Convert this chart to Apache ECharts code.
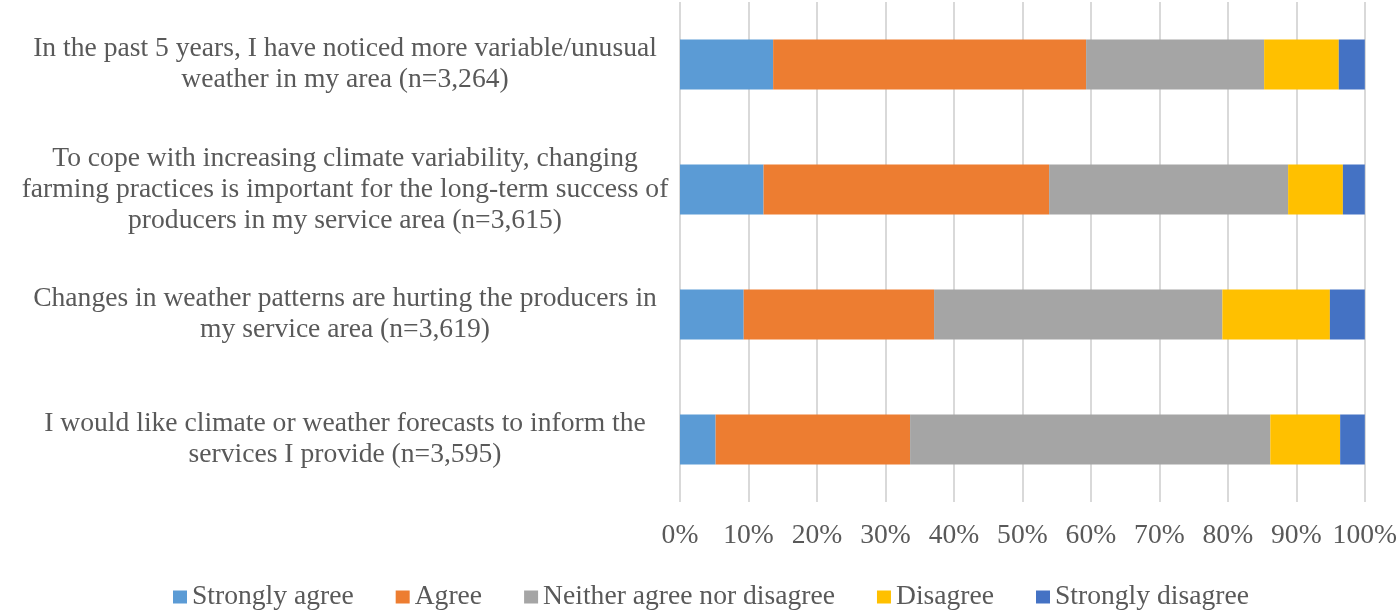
<!DOCTYPE html>
<html>
<head>
<meta charset="utf-8">
<script src="https://cdn.jsdelivr.net/npm/echarts@6/dist/echarts.min.js"></script>
<style>html,body{margin:0;padding:0;background:#fff}#c{width:1400px;height:611px}</style>
</head>
<body>
<div id="c"></div>
<script>
// Categories listed bottom-to-top (ECharts category axis on y starts at bottom)
const categories = [
  "I would like climate or weather forecasts to inform the\nservices I provide (n=3,595)",
  "Changes in weather patterns are hurting the producers in\nmy service area (n=3,619)",
  "To cope with increasing climate variability, changing\nfarming practices is important for the long-term success of\nproducers in my service area (n=3,615)",
  "In the past 5 years, I have noticed more variable/unusual\nweather in my area (n=3,264)"
];
const seriesNames = ["Strongly agree", "Agree", "Neither agree nor disagree", "Disagree", "Strongly disagree"];
const stronglyAgree = [5.2, 9.3, 12.2, 13.6];
const agree = [28.4, 27.8, 41.7, 45.7];
const neither = [52.6, 42.1, 34.9, 26.0];
const disagree = [10.2, 15.7, 8.0, 10.9];
const stronglyDisagree = [3.6, 5.1, 3.2, 3.8];
const xTicks = [0, 10, 20, 30, 40, 50, 60, 70, 80, 90, 100];

const colors = ["#5B9BD5", "#ED7D31", "#A5A5A5", "#FFC000", "#4472C4"];
const values = [stronglyAgree, agree, neither, disagree, stronglyDisagree];
const font = "'Liberation Serif', 'Times New Roman', serif";
const fs = 27.6;

const chart = echarts.init(document.getElementById('c'));
chart.setOption({
  animation: false,
  color: colors,
  textStyle: { fontFamily: font },
  grid: { left: 680, right: 31, top: 2, bottom: 109, containLabel: false },
  legend: {
    data: seriesNames,
    top: 578,
    left: 168,
    icon: 'rect',
    itemWidth: 14,
    itemHeight: 13,
    itemGap: 42,
    textStyle: { fontFamily: font, fontSize: fs, color: '#595959', padding: [0, 0, 0, 0] }
  },
  xAxis: {
    type: 'value',
    min: xTicks[0],
    max: xTicks[xTicks.length - 1],
    interval: 10,
    axisLine: { show: false },
    axisTick: { show: false },
    axisLabel: { formatter: '{value}%', fontFamily: font, fontSize: fs, color: '#595959', margin: 20 },
    splitLine: { show: true, lineStyle: { color: '#D9D9D9', width: 2 } }
  },
  yAxis: {
    type: 'category',
    data: categories,
    axisLine: { show: false },
    axisTick: { show: false },
    axisLabel: {
      fontFamily: font, fontSize: fs, color: '#595959',
      align: 'center', margin: 335, lineHeight: 31
    }
  },
  series: seriesNames.map((n, i) => ({
    name: n,
    type: 'bar',
    stack: 'total',
    barWidth: '40%',
    data: values[i],
    itemStyle: { color: colors[i] }
  }))
});
</script>
</body>
</html>
